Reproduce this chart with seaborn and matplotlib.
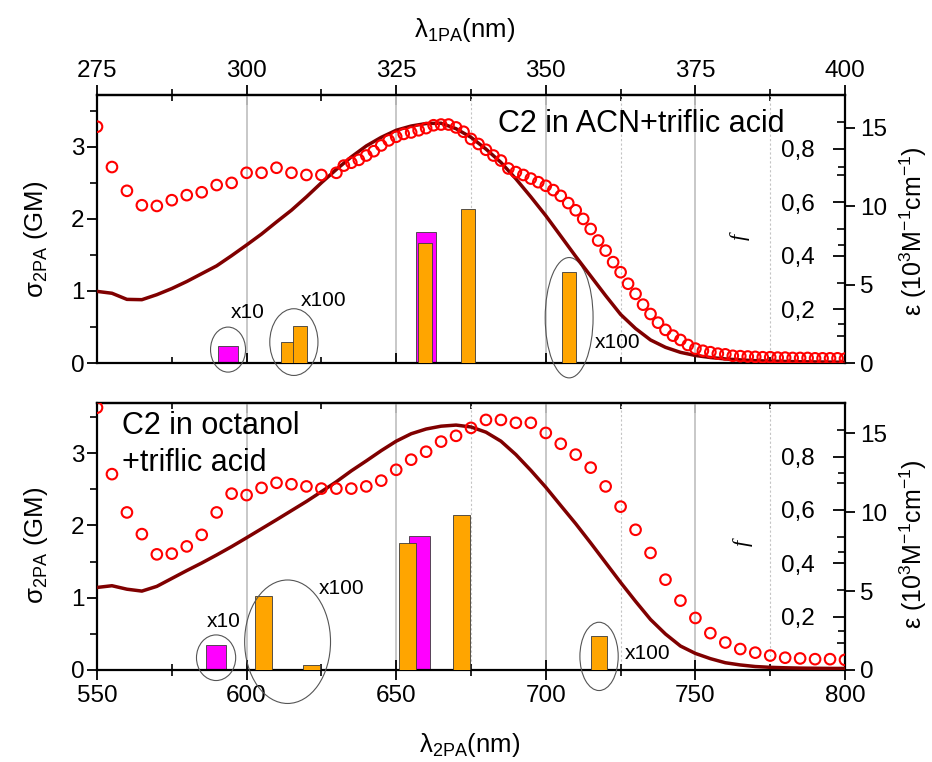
import matplotlib
matplotlib.use("Agg")
import numpy as np
import matplotlib.pyplot as plt
from matplotlib.ticker import MultipleLocator, FixedLocator, FuncFormatter, NullFormatter
from matplotlib.patches import Ellipse
import seaborn as sns

# ---------------- data: C2 in ACN + triflic acid (upper panel) ----------------
acn_tpa_wl = [550, 555, 560, 565, 570, 575, 580, 585, 590, 595, 600, 605, 610, 615, 620, 625, 630,
              632.5, 635, 637.5, 640, 642.5, 645, 647.5, 650, 652.5, 655, 657.5, 660, 662.5, 665,
              667.5, 670, 672.5, 675, 677.5, 680, 682.5, 685, 687.5, 690, 692.5, 695, 697.5, 700,
              702.5, 705, 707.5, 710, 712.5, 715, 717.5, 720, 722.5, 725, 727.5, 730, 732.5, 735,
              737.5, 740, 742.5, 745, 747.5, 750, 752.5, 755, 757.5, 760, 762.5, 765, 767.5, 770,
              772.5, 775, 777.5, 780, 782.5, 785, 787.5, 790, 792.5, 795, 797.5, 800]
acn_tpa_sigma = [3.28, 2.72, 2.39, 2.19, 2.18, 2.26, 2.33, 2.37, 2.47, 2.50, 2.64, 2.64, 2.71, 2.64, 2.61, 2.61, 2.64,
                 2.74, 2.78, 2.82, 2.88, 2.94, 3.02, 3.09, 3.14, 3.18, 3.20, 3.23, 3.26, 3.30, 3.31,
                 3.31, 3.27, 3.21, 3.11, 3.04, 2.96, 2.88, 2.81, 2.70, 2.65, 2.61, 2.56, 2.51, 2.46,
                 2.40, 2.32, 2.22, 2.12, 2.00, 1.86, 1.70, 1.56, 1.40, 1.26, 1.10, 0.96, 0.81, 0.68,
                 0.56, 0.46, 0.38, 0.32, 0.25, 0.20, 0.17, 0.15, 0.13, 0.12, 0.10, 0.095, 0.09, 0.085,
                 0.08, 0.08, 0.075, 0.075, 0.07, 0.07, 0.07, 0.065, 0.065, 0.065, 0.065, 0.06]
acn_abs_wl = [550, 555, 560, 565, 570, 575, 580, 585, 590, 595, 600, 605, 610, 615, 620, 625, 630,
              635, 640, 645, 650, 655, 660, 665, 670, 675, 680, 685, 690, 695, 700, 705, 710, 715,
              720, 725, 730, 735, 740, 745, 750, 755, 760, 765, 770, 775, 780, 785, 790, 795, 800]
acn_abs_eps = [4.57, 4.45, 4.06, 4.04, 4.36, 4.75, 5.2, 5.7, 6.2, 6.85, 7.53, 8.23, 9.0, 9.75, 10.6, 11.5, 12.35,
               13.15, 13.85, 14.4, 14.85, 15.12, 15.28, 15.3, 14.95, 14.4, 13.65, 12.8, 11.75, 10.6, 9.4, 8.1,
               6.8, 5.55, 4.3, 3.1, 2.2, 1.47, 1.0, 0.68, 0.48, 0.35, 0.26, 0.2, 0.15, 0.12, 0.1, 0.08,
               0.07, 0.06, 0.05]
acn_orange_wl = [613.7, 617.9, 659.7, 673.9, 707.8]
acn_orange_f = [0.078, 0.138, 0.447, 0.574, 0.339]
acn_magenta_wl = [593.8, 659.9]
acn_magenta_f = [0.065, 0.487]

# ---------------- data: C2 in octanol + triflic acid (lower panel) ----------------
oct_tpa_wl = [550, 555, 560, 565, 570, 575, 580, 585, 590, 595, 600, 605, 610, 615, 620, 625, 630,
              635, 640, 645, 650, 655, 660, 665, 670, 675, 680, 685, 690, 695, 700, 705, 710, 715,
              720, 725, 730, 735, 740, 745, 750, 755, 760, 765, 770, 775, 780, 785, 790, 795, 800]
oct_tpa_sigma = [3.63, 2.71, 2.18, 1.88, 1.60, 1.61, 1.71, 1.87, 2.18, 2.44, 2.42, 2.52, 2.59, 2.57, 2.54, 2.51, 2.51,
                 2.51, 2.54, 2.62, 2.77, 2.91, 3.02, 3.16, 3.24, 3.35, 3.46, 3.46, 3.42, 3.42, 3.28, 3.13,
                 2.98, 2.80, 2.54, 2.26, 1.94, 1.62, 1.25, 0.96, 0.72, 0.51, 0.38, 0.29, 0.24, 0.20, 0.17,
                 0.16, 0.15, 0.15, 0.14]
oct_abs_wl = oct_tpa_wl
oct_abs_eps = [5.23, 5.34, 5.12, 5.0, 5.3, 5.8, 6.3, 6.78, 7.29, 7.82, 8.38, 8.95, 9.52, 10.1, 10.68, 11.3, 11.93,
               12.62, 13.25, 13.9, 14.5, 14.97, 15.27, 15.45, 15.52, 15.4, 15.07, 14.5, 13.65, 12.65, 11.58,
               10.42, 9.27, 8.05, 6.8, 5.55, 4.35, 3.2, 2.28, 1.52, 1.05, 0.72, 0.46, 0.32, 0.22, 0.17, 0.14,
               0.12, 0.11, 0.10, 0.10]
oct_orange_wl = [605.7, 621.7, 653.8, 671.9, 717.8]
oct_orange_f = [0.279, 0.019, 0.476, 0.583, 0.129]
oct_magenta_wl = [589.8, 657.8]
oct_magenta_f = [0.094, 0.501]

# scaled transitions marked with an ellipse: (label, colour group, bar indices)
acn_scaled = [("x10", "magenta", [0]), ("x100", "orange", [0, 1]), ("x100", "orange", [4])]
oct_scaled = [("x10", "magenta", [0]), ("x100", "orange", [0, 1]), ("x100", "orange", [4])]

panel_titles = [["C2 in ACN+triflic acid"], ["C2 in octanol", "+triflic acid"]]

# axis tick positions
x2pa_major = [550, 600, 650, 700, 750, 800]
x2pa_minor = [575, 625, 675, 725, 775]
dotted_grid = [675, 725, 775]
x1pa_major = [275, 300, 325, 350, 375, 400]
x1pa_minor = [287.5, 312.5, 337.5, 362.5, 387.5]

# ---------------- style ----------------
W, H = 932, 762
RED = "#ff0000"
MAROON = "#800000"
ORANGE = "#ffa500"
MAGENTA = "#ff00ff"
TICK_FS = 17.5
LABEL_FS = 18.5

sns.set_theme(style="ticks")
plt.rcParams.update({
    "font.family": ["Liberation Sans", "DejaVu Sans"],
    "mathtext.fontset": "custom",
    "mathtext.rm": "Liberation Sans",
    "mathtext.it": "Liberation Sans:italic",
    "mathtext.bf": "Liberation Sans:bold",
    "axes.linewidth": 1.5,
    "axes.edgecolor": "black",
    "xtick.color": "black",
    "ytick.color": "black",
    "text.color": "black",
})


def frac(x, y):
    return x / W, 1 - y / H


def comma(v, pos):
    return f"{v:.1f}".replace(".", ",")


fig = plt.figure(figsize=(W / 100, H / 100), dpi=100, facecolor="white")

panels = [
    dict(rect=[97 / W, 1 - 363 / H, 748 / W, 268 / H], sig_max=3.72, eps_max=17.1,
         tpa_wl=acn_tpa_wl, tpa=acn_tpa_sigma, abs_wl=acn_abs_wl, eps=acn_abs_eps,
         o_wl=acn_orange_wl, o_f=acn_orange_f, m_wl=acn_magenta_wl, m_f=acn_magenta_f,
         bar_w=(4.7, 6.5), scaled=acn_scaled,
         ell=[(0.050, 11.7, 0.168, 0.8, 0.189), (0.078, 16.1, 0.249, 2.4, 0.234),
              (0.169, 16.0, 0.449, 8.6, 0.077)],
         sig_lab_y=239, eps_lab_y=231, f_lab=(740, 237)),
    dict(rect=[97 / W, 1 - 670 / H, 748 / W, 266.7 / H], sig_max=3.69, eps_max=16.9,
         tpa_wl=oct_tpa_wl, tpa=oct_tpa_sigma, abs_wl=oct_abs_wl, eps=oct_abs_eps,
         o_wl=oct_orange_wl, o_f=oct_orange_f, m_wl=oct_magenta_wl, m_f=oct_magenta_f,
         bar_w=(5.6, 6.9), scaled=oct_scaled,
         ell=[(0.046, 13.1, 0.171, -3.2, 0.181), (0.106, 28.7, 0.463, 10.3, 0.305),
              (0.051, 12.8, 0.256, 8.7, 0.061)],
         sig_lab_y=545, eps_lab_y=544, f_lab=(743, 543)),
]

for i, p in enumerate(panels):
    ax_f = fig.add_axes(p["rect"])
    ax_e = fig.add_axes(p["rect"], sharex=ax_f)
    ax_s = fig.add_axes(p["rect"], sharex=ax_f)
    for a in (ax_e, ax_s):
        a.patch.set_visible(False)
        a.xaxis.set_visible(False)
        for sp in a.spines.values():
            sp.set_visible(False)
    ax_f.patch.set_facecolor("white")
    for sp in ax_f.spines.values():
        sp.set_linewidth(1.6)

    # --- x axis and grid ---
    ax_f.set_xlim(550, 800)
    ax_f.xaxis.set_major_locator(FixedLocator(x2pa_major))
    ax_f.xaxis.set_minor_locator(FixedLocator(x2pa_minor))
    ax_f.grid(True, which="major", axis="x", color="#c4c4c4", lw=1.3)
    for gx in dotted_grid:
        ax_f.axvline(gx, color="#c4c4c4", lw=0.8, ls=(0, (2, 2)), zorder=0.5)
    ax_f.set_axisbelow(True)

    # --- oscillator strength bars ---
    ax_f.set_ylim(0, 1.0)
    ax_f.bar(p["m_wl"], p["m_f"], width=p["bar_w"][1], color=MAGENTA,
             edgecolor="#3a3a3a", linewidth=0.6, zorder=2)
    ax_f.bar(p["o_wl"], p["o_f"], width=p["bar_w"][0], color=ORANGE,
             edgecolor="#3a3a3a", linewidth=0.6, zorder=3)
    for (lab, grp, idx), (cy, w, h, dx, ly) in zip(p["scaled"], p["ell"]):
        wl = p["m_wl"] if grp == "magenta" else p["o_wl"]
        cx = float(np.mean([wl[k] for k in idx]))
        ax_f.add_patch(Ellipse((cx, cy), w, h, fill=False, edgecolor="#555555",
                               lw=0.8, clip_on=False, zorder=4))
        ax_f.text(cx + dx, ly, lab, fontsize=15, ha="left", va="center", zorder=5)

    ax_f.yaxis.tick_right()
    ax_f.yaxis.set_major_locator(FixedLocator([0.2, 0.4, 0.6, 0.8]))
    ax_f.yaxis.set_minor_locator(MultipleLocator(0.1))
    ax_f.yaxis.set_major_formatter(FuncFormatter(comma))
    ax_f.tick_params(axis="y", which="major", direction="in", length=9, width=1.3,
                     labelsize=TICK_FS, pad=-22, left=False, right=True,
                     labelleft=False, labelright=True)
    ax_f.tick_params(axis="y", which="minor", direction="in", length=5.5, width=1.2,
                     left=False, right=True)
    for t in ax_f.yaxis.get_major_ticks():
        t.label2.set_horizontalalignment("right")

    # --- 1PA absorption (epsilon) ---
    sns.lineplot(x=p["abs_wl"], y=p["eps"], ax=ax_e, color=MAROON, linewidth=2.5,
                 sort=False, zorder=3)
    ax_e.set_ylim(0, p["eps_max"])
    ax_e.yaxis.tick_right()
    ax_e.yaxis.set_major_locator(MultipleLocator(5))
    ax_e.yaxis.set_minor_locator(MultipleLocator(2.5))
    ax_e.tick_params(axis="y", which="major", direction="out", length=7, width=1.3,
                     labelsize=TICK_FS, pad=4, left=False, right=True)
    ax_e.tick_params(axis="y", which="minor", direction="in", length=5, width=1.2,
                     left=False, right=True)
    ax_e.set_ylabel("")
    ax_e.set_xlabel("")

    # --- 2PA cross section (sigma) ---
    sns.scatterplot(x=p["tpa_wl"], y=p["tpa"], ax=ax_s, marker="o", s=58,
                    color=RED, facecolor="none", edgecolor=RED, linewidth=1.5, zorder=4)
    ax_s.collections[-1].set_facecolor("none")
    ax_s.collections[-1].set_edgecolor(RED)
    ax_s.set_ylim(0, p["sig_max"])
    ax_s.yaxis.tick_left()
    ax_s.yaxis.set_major_locator(MultipleLocator(1))
    ax_s.yaxis.set_minor_locator(MultipleLocator(0.5))
    ax_s.tick_params(axis="y", which="major", direction="out", length=7, width=1.3,
                     labelsize=TICK_FS, pad=2, left=True, right=False)
    ax_s.tick_params(axis="y", which="minor", direction="out", length=5, width=1.2,
                     left=True, right=False)
    ax_s.set_ylabel("")
    ax_s.set_xlabel("")
    ax_f.set_xlim(550, 800)

    if i == 0:
        ax_f.tick_params(axis="x", which="major", direction="in", length=7, width=1.3,
                         bottom=True, top=False, labelbottom=False)
        ax_f.tick_params(axis="x", which="minor", direction="in", length=4.5, width=1.2,
                         bottom=True, top=False)
        top = ax_f.secondary_xaxis("top", functions=(lambda x: x / 2, lambda x: x * 2))
        top.xaxis.set_major_locator(FixedLocator(x1pa_major))
        top.xaxis.set_minor_locator(FixedLocator(x1pa_minor))
        top.xaxis.set_minor_formatter(NullFormatter())
        top.tick_params(which="major", direction="inout", length=15, width=1.3,
                        labelsize=TICK_FS, pad=1.5)
        top.tick_params(which="minor", direction="inout", length=9, width=1.2)
        top.spines["top"].set_linewidth(1.6)
        top.set_xlabel("")
    else:
        ax_f.tick_params(axis="x", which="major", direction="inout", length=14, width=1.3,
                         bottom=True, top=False, labelbottom=True, labelsize=TICK_FS, pad=4)
        ax_f.tick_params(axis="x", which="minor", direction="inout", length=8.5, width=1.2,
                         bottom=True, top=False)
        top = ax_f.secondary_xaxis("top")
        top.xaxis.set_major_locator(FixedLocator(x2pa_major))
        top.xaxis.set_minor_locator(FixedLocator(x2pa_minor))
        top.xaxis.set_major_formatter(NullFormatter())
        top.xaxis.set_minor_formatter(NullFormatter())
        top.tick_params(which="major", direction="in", length=7, width=1.3)
        top.tick_params(which="minor", direction="in", length=4.5, width=1.2)
        top.spines["top"].set_linewidth(1.6)

    # --- axis titles ---
    fig.text(*frac(36, p["sig_lab_y"]), r"σ$_{\mathregular{2PA}}$ (GM)", rotation=90,
             ha="center", va="center", rotation_mode="anchor", fontsize=LABEL_FS)
    fig.text(*frac(913, p["eps_lab_y"]),
             r"ε (10$^{\mathregular{3}}$M$^{\mathregular{-1}}$cm$^{\mathregular{-1}}$)",
             rotation=90, ha="center", va="center", rotation_mode="anchor", fontsize=LABEL_FS - 0.5)
    fig.text(*frac(*p["f_lab"]), "f", rotation=90, ha="center", va="center",
             rotation_mode="anchor", fontsize=16, family=["Liberation Serif"], style="italic")

# panel titles
fig.text(*frac(498, 132), panel_titles[0][0], fontsize=22, ha="left", va="baseline")
fig.text(*frac(122, 434), panel_titles[1][0], fontsize=22, ha="left", va="baseline")
fig.text(*frac(122, 471), panel_titles[1][1], fontsize=22, ha="left", va="baseline")

# wavelength axis titles
fig.text(*frac(465, 30), r"λ$_{\mathregular{1PA}}$(nm)", ha="center", va="center", fontsize=LABEL_FS)
fig.text(*frac(470, 745), r"λ$_{\mathregular{2PA}}$(nm)", ha="center", va="center", fontsize=LABEL_FS)

fig.savefig("out.png", dpi=100, facecolor="white")
